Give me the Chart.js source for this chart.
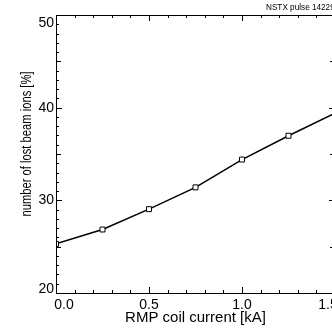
<!DOCTYPE html>
<html>
<head>
<meta charset="utf-8">
<script src="https://cdn.jsdelivr.net/npm/chart.js@4"></script>
<style>
  html, body { margin: 0; padding: 0; background: #fff; overflow: hidden; }
  #wrap { width: 332px; height: 331px; overflow: hidden; }
</style>
</head>
<body>
<div id="wrap"><canvas id="myChart" width="345" height="331"></canvas></div>
<script>
// Data
var coilCurrent = [0, 0.25, 0.5, 0.75, 1.0, 1.25, 1.5];
var lostIons = [25.3, 26.85, 29.05, 31.4, 34.4, 36.97, 39.4];
var pulseLabel = "NSTX pulse 142293";
var yTitle = "number of lost beam ions [%]";

var font = "'Liberation Sans', Arial, sans-serif";

// inward ticks, frame, y title and pulse label (IDL style)
var frame = {
  id: "frame",
  beforeDraw: function (chart) {
    // keep end labels inside the axis range
    var xi = chart.scales.x.getLabelItems();
    if (xi.length && !xi[0]._moved) {
      xi[0].options.translation[0] += 8;
      xi[xi.length - 1].options.translation[0] -= 7;
      xi[0]._moved = true;
    }
    var yi = chart.scales.y.getLabelItems();
    if (yi.length && !yi[0]._moved) {
      yi[0].options.translation[1] -= 4;
      yi[yi.length - 1].options.translation[1] += 8;
      yi[0]._moved = true;
    }
  },
  afterDraw: function (chart) {
    var ctx = chart.ctx;
    var a = chart.chartArea;
    var x = chart.scales.x;
    var y = chart.scales.y;
    ctx.save();
    ctx.strokeStyle = "#000";
    ctx.lineWidth = 1;
    ctx.strokeRect(a.left + 0.5, a.top + 0.5, a.right - a.left, a.bottom - a.top);

    ctx.beginPath();
    for (var i = 0; i <= 15; i++) {
      var v = i / 10;
      var px = Math.round(x.getPixelForValue(v)) + 0.5;
      var len = i % 5 === 0 ? 6 : 3;
      ctx.moveTo(px, a.bottom);
      ctx.lineTo(px, a.bottom - len);
      ctx.moveTo(px, a.top);
      ctx.lineTo(px, a.top + len);
    }
    for (var j = 20; j <= 50; j++) {
      var py = Math.round(y.getPixelForValue(j)) + 0.5;
      var l = j % 10 === 0 ? 6 : (j % 5 === 0 ? 5 : 3);
      ctx.moveTo(a.left, py);
      ctx.lineTo(a.left + l, py);
      ctx.moveTo(a.right, py);
      ctx.lineTo(a.right - l, py);
    }
    ctx.stroke();

    ctx.fillStyle = "#000";
    ctx.font = "8.2px " + font;
    ctx.textBaseline = "alphabetic";
    ctx.fillText(pulseLabel, 266, 10);

    // y title, a bit condensed like the original
    ctx.translate(27, (a.top + a.bottom) / 2 - 10);
    ctx.rotate(-Math.PI / 2);
    ctx.scale(0.8, 1);
    ctx.font = "14px " + font;
    ctx.textAlign = "center";
    ctx.textBaseline = "middle";
    ctx.fillText(yTitle, 0, 0);
    ctx.restore();
  }
};

const ctx = document.getElementById("myChart").getContext("2d");
const myChart = new Chart(ctx, {
  type: "line",
  data: {
    datasets: [{
      data: coilCurrent.map((c, i) => ({ x: c, y: lostIons[i] })),
      borderColor: "#000",
      borderWidth: 1.5,
      pointStyle: "rect",
      pointRadius: 3.5,
      pointBorderWidth: 1,
      pointBackgroundColor: "#fff",
      pointBorderColor: "#000",
      tension: 0
    }]
  },
  options: {
    responsive: false,
    animation: false,
    layout: { padding: { left: 0, top: 15, right: 10, bottom: 0 } },
    plugins: {
      legend: { display: false },
      tooltip: { enabled: false }
    },
    scales: {
      x: {
        type: "linear",
        min: 0,
        max: 1.5,
        grid: { display: false, drawTicks: false },
        border: { display: false },
        ticks: {
          stepSize: 0.5,
          padding: 4,
          maxRotation: 0,
          color: "#000",
          font: { family: font, size: 14 },
          callback: v => v.toFixed(1)
        },
        title: {
          display: true,
          text: "RMP coil current [kA]",
          color: "#000",
          font: { family: font, size: 15 },
          padding: { top: 0, bottom: 4 }
        },
        afterFit: function (s) {
          s.height = 38;
          s.paddingLeft = 0;
          s.paddingRight = 0;
        }
      },
      y: {
        min: 20,
        max: 50,
        grid: { display: false, drawTicks: false },
        border: { display: false },
        ticks: {
          stepSize: 10,
          padding: 2,
          color: "#000",
          font: { family: font, size: 14 }
        },
        afterFit: function (s) {
          s.width = 56;
          s.paddingTop = 0;
          s.paddingBottom = 0;
        }
      }
    }
  },
  plugins: [frame]
});
</script>
</body>
</html>
